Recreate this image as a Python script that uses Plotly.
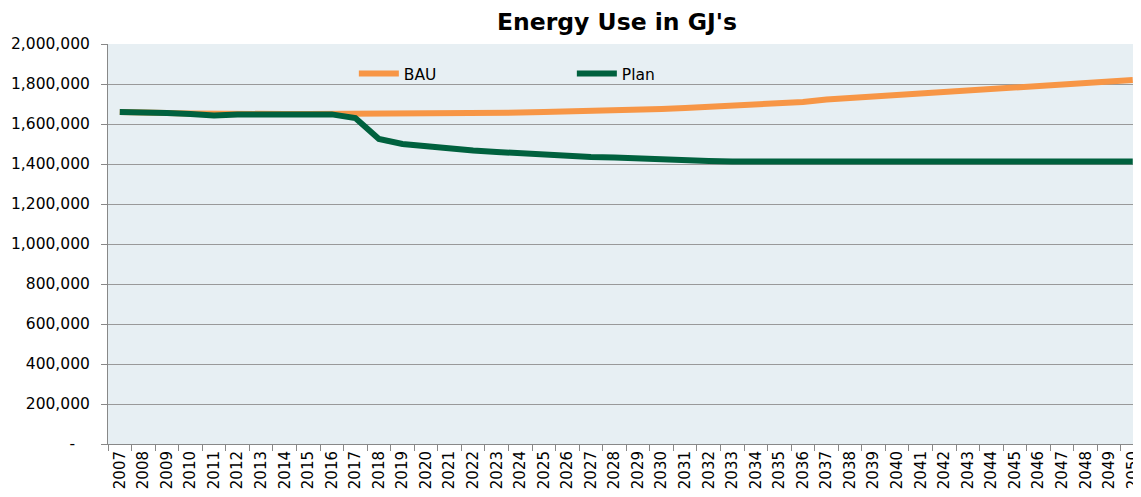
import plotly.graph_objects as go

years = [str(y) for y in range(2007, 2051)]

bau = [1660000, 1660000, 1655000, 1652000, 1650000, 1650000, 1650000, 1650000,
       1650000, 1650000, 1650000, 1650000, 1650000, 1650000, 1650000, 1650000,
       1655000, 1657000, 1660000, 1662000, 1663000, 1667000, 1670000, 1675000,
       1680000, 1685000, 1690000, 1695000, 1702000, 1710000, 1722000, 1730000,
       1737000, 1743000, 1750000, 1757000, 1765000, 1775000, 1783000, 1790000,
       1797000, 1804000, 1811000, 1820000]

plan = [1660000, 1660000, 1655000, 1650000, 1643000, 1648000, 1648000, 1648000,
        1648000, 1648000, 1630000, 1525000, 1500000, 1488000, 1473000, 1467000,
        1460000, 1453000, 1447000, 1440000, 1435000, 1433000, 1428000, 1420000,
        1420000, 1415000, 1413000, 1413000, 1413000, 1413000, 1413000, 1413000,
        1406000, 1406000, 1406000, 1406000, 1406000, 1406000, 1413000, 1413000,
        1413000, 1413000, 1413000, 1413000]

y_ticks = list(range(0, 2000001, 200000))
# accounting-style zero: a dash set in from the right edge
y_labels = ["-\u00a0\u00a0\u00a0"] + [f"{v:,}" for v in y_ticks[1:]]

fig = go.Figure()
fig.add_trace(go.Scatter(x=years, y=bau, name="BAU", mode="lines",
                         line=dict(color="#F79646", width=6)))
fig.add_trace(go.Scatter(x=years, y=plan, name="Plan", mode="lines",
                         line=dict(color="#00613E", width=6)))

# page body has an 8px margin, so the figure is sized/offset to fit the window
fig.update_layout(
    width=1133, height=489,
    margin=dict(l=100, r=0, t=36, b=53),
    paper_bgcolor="white",
    plot_bgcolor="#E7EFF3",
    font=dict(family="DejaVu Sans", size=14, color="black"),
    title=dict(text="<b>Energy Use in GJ's</b>", x=609 / 1133, xanchor="center",
               y=0.971, yanchor="middle", font=dict(size=23.5)),
    showlegend=True,
    legend=dict(orientation="h", x=0.238, xanchor="left", y=0.925, yanchor="middle",
                bgcolor="rgba(0,0,0,0)", font=dict(size=15.5),
                entrywidth=163, itemwidth=40),
)

fig.update_xaxes(
    type="category", range=[-0.5, 43.35], tickangle=-90, automargin=False,
    tickson="boundaries", ticks="outside", ticklen=6, tickcolor="#888888",
    showgrid=False, showline=True, linecolor="#888888", linewidth=1,
    tickfont=dict(size=15),
)
fig.update_yaxes(
    range=[0, 2000000], tickvals=y_ticks, ticktext=y_labels, automargin=False,
    ticks="outside", ticklen=6, tickcolor="#888888", ticklabelstandoff=8,
    showgrid=True, gridcolor="#999999", gridwidth=1,
    showline=True, linecolor="#888888", linewidth=1, zeroline=False,
    tickfont=dict(size=15.5),
)

fig.write_html("out.html")
